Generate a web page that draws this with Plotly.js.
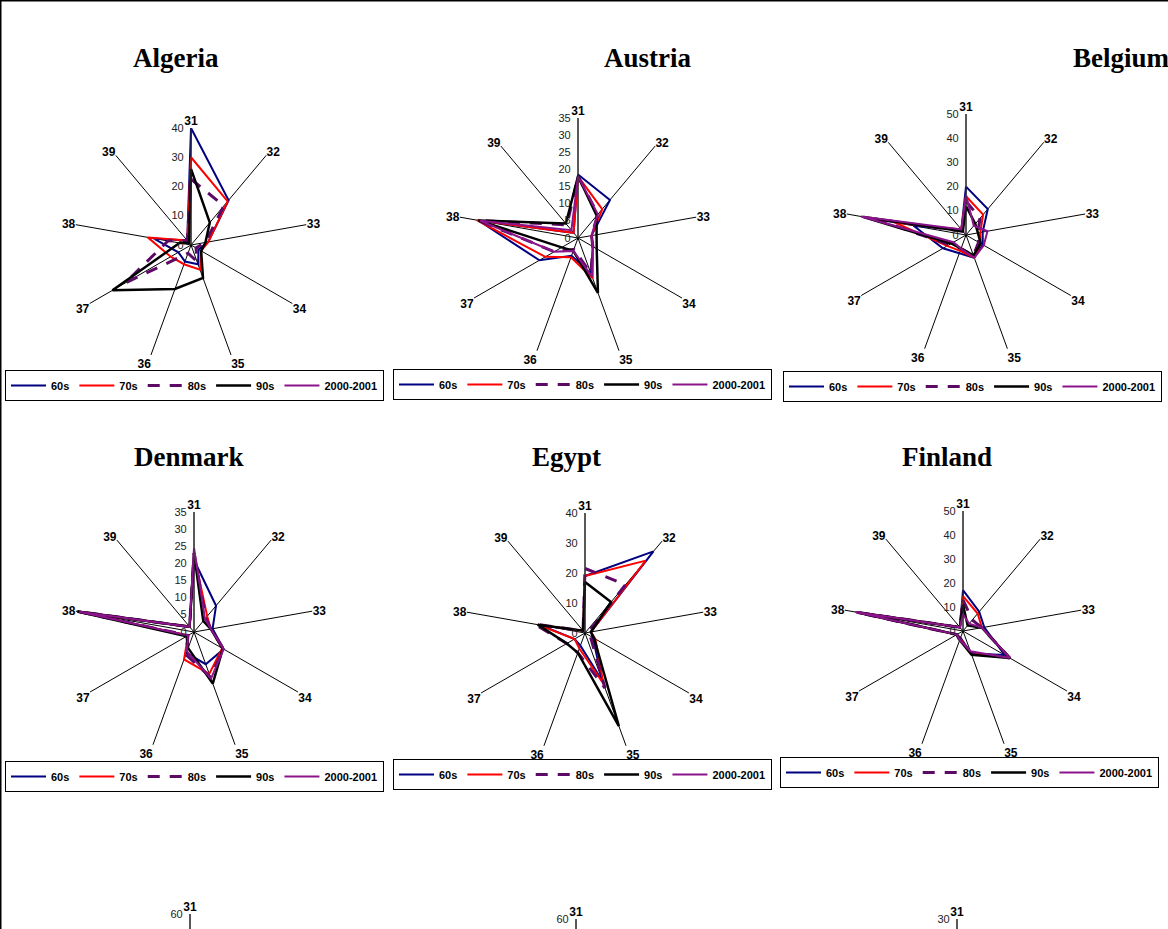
<!DOCTYPE html>
<html>
<head>
<meta charset="utf-8">
<script src="https://cdn.plot.ly/plotly-3.0.1.min.js"></script>
<style>
  html, body { margin: 0; padding: 0; overflow: hidden; background: #fff; }
  #chart { width: 1168px; height: 1400px; }
</style>
</head>
<body>
<div id="chart"></div>
<script>
// Sector codes on the radar spokes, clockwise from the top
const sectors = ['31', '32', '33', '34', '35', '36', '37', '38', '39'];
const periods = ['60s', '70s', '80s', '90s', '2000-2001'];

// Algeria
const algeria60s   = [40, 20, 6, 3, 7, 6, 5, 13, 2];
const algeria70s   = [30, 19.5, 6, 4, 9, 7, 8, 15, 2];
const algeria80s   = [22.5, 17.5, 5, 2, 6, 3, 26, 8, 2];
const algeria90s   = [26, 10, 5, 4, 12, 16, 31, 4, 1];
const algeria2000  = [null, null, null, null, null, null, null, null, null];

// Austria
const austria60s   = [18.5, 14.5, 4, 5, 11, 5.5, 13, 29.5, 2];
const austria70s   = [18, 11, 4, 5, 12.5, 6, 11, 30, 2];
const austria80s   = [18, 9, 4, 5, 11, 3.5, 8, 29.5, 5];
const austria90s   = [18, 8.5, 5.5, 6.3, 17, 4, 5.5, 29.5, 5.5];
const austria2000  = [18, 9, 4, 5, 12, 4, 8, 29, 3];

// Belgium
const belgium60s   = [20, 14, 7, 8, 10, 8, 11, 22, 3];
const belgium70s   = [16, 11, 6, 7, 10, 7, 9, 30, 3];
const belgium80s   = [14, 9, 5, 6, 9, 6, 8, 38, 2];
const belgium90s   = [12, 6, 5, 7, 9, 6, 7, 43, 2];
const belgium2000  = [16.5, 5, 9, 8.5, 10, 6, 6, 44, 3];

// Denmark
const denmark60s   = [21, 10, 5.5, 10, 10, 6.5, 2, 34.5, 2];
const denmark70s   = [22.5, 6, 5, 9.5, 13, 8.5, 2, 34.5, 2];
const denmark80s   = [23, 5.3, 5, 10, 14, 7, 2, 34.5, 2];
const denmark90s   = [23, 4.2, 5, 9.7, 16, 5, 2.5, 34.5, 2];
const denmark2000  = [24.5, 5, 5, 10, 14.5, 6, 2, 34, 2];

// Egypt
const egypt60s     = [19, 35.5, 2, 3, 17, 4.5, 4, 15, 1];
const egypt70s     = [19, 31.5, 2, 4, 18, 5.5, 4, 16, 1];
const egypt80s     = [21.5, 21, 1, 2, 19.5, 7, 7, 17, 1];
const egypt90s     = [17, 13.5, 2, 3.5, 33, 7, 7, 16, 1];
const egypt2000    = [null, null, null, null, null, null, null, null, null];

// Finland
const finland60s   = [17, 10.5, 9, 20, 10, 3, 3, 43, 2];
const finland70s   = [14.5, 9.5, 8, 22.5, 10, 3.5, 3, 45, 2];
const finland80s   = [13, 6, 8, 22.5, 9.5, 4, 3, 45, 2];
const finland90s   = [11, 3, 8, 22.5, 10.5, 4, 3, 45, 2];
const finland2000  = [7, 4, 8, 22.5, 9, 4, 3, 45.5, 2];

const countries = ['Algeria', 'Austria', 'Belgium', 'Denmark', 'Egypt', 'Finland'];
const countrySeries = [
  [algeria60s, algeria70s, algeria80s, algeria90s, algeria2000],
  [austria60s, austria70s, austria80s, austria90s, austria2000],
  [belgium60s, belgium70s, belgium80s, belgium90s, belgium2000],
  [denmark60s, denmark70s, denmark80s, denmark90s, denmark2000],
  [egypt60s, egypt70s, egypt80s, egypt90s, egypt2000],
  [finland60s, finland70s, finland80s, finland90s, finland2000]
];
const radialMax  = [40, 35, 50, 35, 40, 50];
const radialStep = [10, 5, 10, 5, 10, 10];
// third row of the sheet: only its top edge falls on the page
const lowerMax  = [60, 60, 30];
const lowerSpokeLabels = ['31', '', '', '', '', '', '', '', ''];

// ---- page geometry (pixels) ----
const W = 1168, H = 1400;
const chartCenters = [[191, 245], [578, 238], [966, 235], [194, 632], [585, 633], [963, 631]];
const chartRadius  = [117, 120, 121, 120, 120, 120];
const lowerCenters = [[190, 1034], [576, 1039], [957, 1039]];
const titlePos = [[176, 58], [647, 58], [1121, 58], [189, 457], [566, 457], [947, 457]];
const legendPos = [[5, 370], [393, 369], [783, 371], [5, 761], [393, 759], [780, 757]];

const lineStyles = [
  { color: '#000080', width: 2 },
  { color: '#ff0000', width: 2 },
  { color: '#5c0a66', width: 3, dash: '12px,10px' },
  { color: '#000000', width: 2.5 },
  { color: '#8b148b', width: 2 }
];

const FONT = 'Liberation Sans, Arial, sans-serif';

function domainFor(cx, cy, R) {
  return { x: [(cx - R) / W, (cx + R) / W], y: [1 - (cy + R) / H, 1 - (cy - R) / H] };
}

function closeLoop(arr) { return arr.concat([arr[0]]); }

function polarLayout(domain, max, step, labels) {
  return {
    domain: domain,
    bgcolor: 'rgba(0,0,0,0)',
    angularaxis: {
      type: 'category',
      categoryorder: 'array',
      categoryarray: sectors,
      tickmode: 'array',
      tickvals: sectors,
      ticktext: labels,
      rotation: 90,
      direction: 'clockwise',
      showline: false,
      showgrid: true,
      gridcolor: '#000',
      gridwidth: 1,
      ticks: '',
      tickfont: { family: FONT, size: 12, color: '#000', weight: 'bold' }
    },
    radialaxis: {
      range: [0, max],
      dtick: step,
      tick0: 0,
      angle: 90,
      side: 'counterclockwise',
      tickangle: 90,
      showline: true,
      linecolor: '#333',
      linewidth: 1,
      showgrid: false,
      ticks: 'outside',
      ticklen: 3,
      tickcolor: 'rgba(0,0,0,0)',
      tickfont: { family: FONT, size: 11, color: '#222' }
    }
  };
}

const traces = [];
const layout = {
  width: W, height: H,
  margin: { l: 0, r: 0, t: 0, b: 0 },
  paper_bgcolor: '#fff',
  showlegend: true,
  annotations: [],
  shapes: [
    // page frame: left and top edges
    { type: 'rect', xref: 'paper', yref: 'paper', x0: 0.5 / W, x1: 1.05, y0: -0.05, y1: 1 - 0.5 / H,
      line: { color: '#000', width: 2 }, fillcolor: 'rgba(0,0,0,0)' }
  ]
};

countries.forEach((name, i) => {
  const sub = 'polar' + (i === 0 ? '' : i + 1);
  const leg = 'legend' + (i === 0 ? '' : i + 1);
  const [cx, cy] = chartCenters[i];
  layout[sub] = polarLayout(domainFor(cx, cy, chartRadius[i]), radialMax[i], radialStep[i], sectors);
  countrySeries[i].forEach((vals, k) => {
    traces.push({
      type: 'scatterpolar',
      mode: 'lines',
      subplot: sub,
      legend: leg,
      name: periods[k],
      r: closeLoop(vals),
      theta: closeLoop(sectors),
      line: lineStyles[k],
      connectgaps: false,
      hoverinfo: 'skip'
    });
  });
  const [lx, ly] = legendPos[i];
  layout[leg] = {
    orientation: 'h',
    x: lx / W, y: 1 - ly / H,
    xanchor: 'left', yanchor: 'top',
    bgcolor: 'rgba(255,255,255,0)',
    bordercolor: '#000',
    borderwidth: 1,
    itemwidth: 35,
    font: { family: FONT, size: 11, color: '#000', weight: 'bold' },
    traceorder: 'normal',
    itemclick: false, itemdoubleclick: false
  };
  const [tx, ty] = titlePos[i];
  layout.annotations.push({
    text: '<b>' + name + '</b>',
    xref: 'paper', yref: 'paper',
    x: tx / W, y: 1 - ty / H,
    xanchor: 'center', yanchor: 'middle',
    showarrow: false,
    font: { family: 'Liberation Serif, Times New Roman, serif', size: 27, color: '#000' }
  });
});

// lower row: only the top of the 31 spoke and its end value reach the page
lowerCenters.forEach(([cx, cy], j) => {
  const sub = 'polar' + (7 + j);
  const pl = polarLayout(domainFor(cx, cy, 120), lowerMax[j], lowerMax[j], lowerSpokeLabels);
  pl.radialaxis.tickmode = 'array';
  pl.radialaxis.tickvals = [lowerMax[j]];
  layout[sub] = pl;
  traces.push({
    type: 'scatterpolar', mode: 'lines', subplot: sub, showlegend: false,
    r: sectors.map(() => null), theta: sectors, hoverinfo: 'skip'
  });
});

Plotly.newPlot('chart', traces, layout, { staticPlot: true, displayModeBar: false });
</script>
</body>
</html>
